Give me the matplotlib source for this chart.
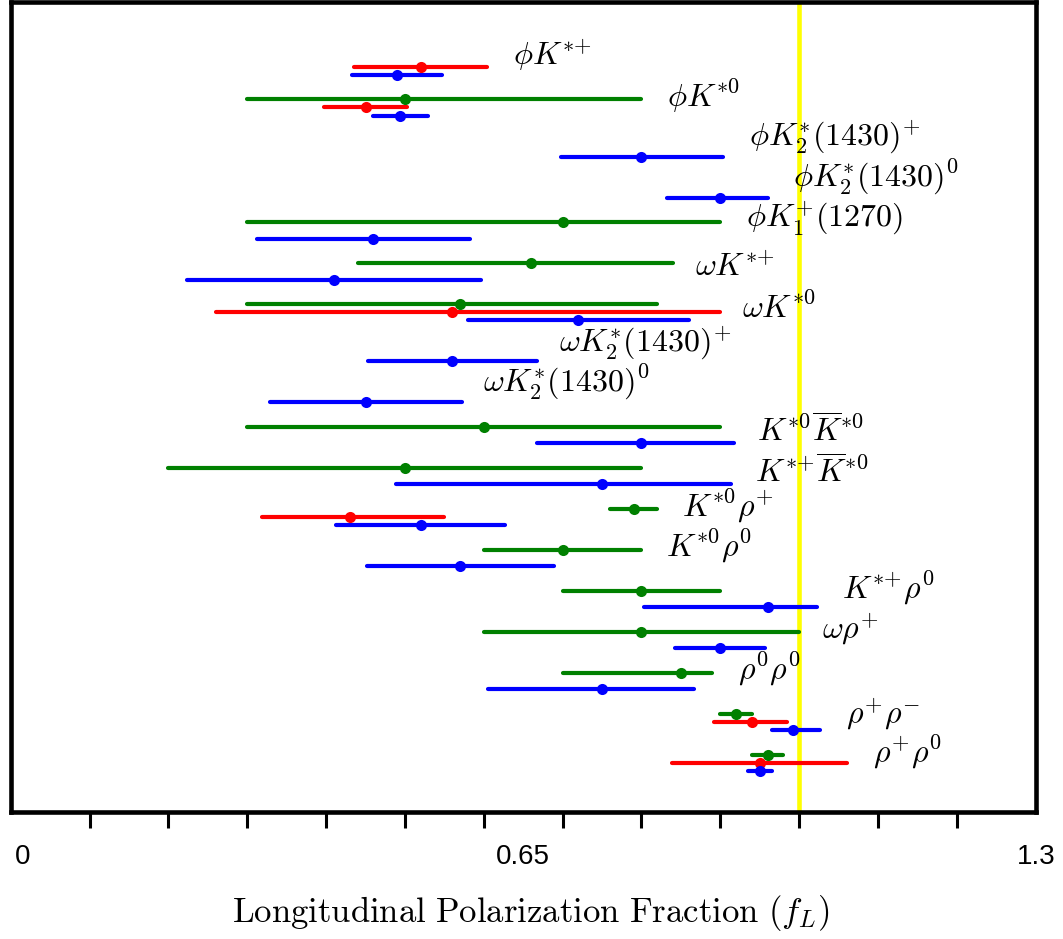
import numpy as np
import matplotlib
matplotlib.use("Agg")
import matplotlib.pyplot as plt
import matplotlib.transforms as mtransforms
from matplotlib.ticker import FixedLocator

plt.rcParams["mathtext.fontset"] = "cm"
plt.rcParams["font.family"] = ["Liberation Sans", "DejaVu Sans"]

# Decay channels, top to bottom (charges and stars braced so they are not spaced as operators)
channels = [
    r"$\phi K^{*{+}}$",
    r"$\phi K^{*0}$",
    r"$\phi K_2^{*}(1430)^{+}$",
    r"$\phi K_2^{*}(1430)^0$",
    r"$\phi K_1^{+}(1270)$",
    r"$\omega K^{*{+}}$",
    r"$\omega K^{*0}$",
    r"$\omega K_2^{*}(1430)^{+}$",
    r"$\omega K_2^{*}(1430)^0$",
    r"$K^{*0}\overline{K}^{*0}$",
    r"$K^{*{+}}\overline{K}^{*0}$",
    r"$K^{*0}\rho^{+}$",
    r"$K^{*0}\rho^0$",
    r"$K^{*{+}}\rho^0$",
    r"$\omega\rho^{+}$",
    r"$\rho^0\rho^0$",
    r"$\rho^{+}\rho^{-}$",
    r"$\rho^{+}\rho^0$",
]

nan = np.nan

# Green series: central value and interval
green_val = [nan, 0.50, nan, nan, 0.70, 0.66, 0.57, nan, nan, 0.60,
             0.50, 0.79, 0.70, 0.80, 0.80, 0.85, 0.92, 0.96]
green_lo = [nan, 0.30, nan, nan, 0.30, 0.44, 0.30, nan, nan, 0.30,
            0.20, 0.76, 0.60, 0.70, 0.60, 0.70, 0.90, 0.94]
green_hi = [nan, 0.80, nan, nan, 0.90, 0.84, 0.82, nan, nan, 0.90,
            0.80, 0.82, 0.80, 0.90, 1.00, 0.89, 0.94, 0.98]

# Red series
red_val = [0.52, 0.45, nan, nan, nan, nan, 0.56, nan, nan, nan,
           nan, 0.43, nan, nan, nan, nan, 0.94, 0.95]
red_lo = [0.436, 0.397, nan, nan, nan, nan, 0.26, nan, nan, nan,
          nan, 0.319, nan, nan, nan, nan, 0.892, 0.839]
red_hi = [0.604, 0.503, nan, nan, nan, nan, 0.90, nan, nan, nan,
          nan, 0.55, nan, nan, nan, nan, 0.985, 1.061]

# Blue series
blue_val = [0.49, 0.494, 0.80, 0.90, 0.46, 0.41, 0.72, 0.56, 0.45, 0.80,
            0.75, 0.52, 0.57, 0.96, 0.90, 0.75, 0.992, 0.95]
blue_lo = [0.433, 0.459, 0.698, 0.833, 0.313, 0.224, 0.58, 0.453, 0.329, 0.668,
           0.489, 0.413, 0.452, 0.803, 0.843, 0.605, 0.966, 0.935]
blue_hi = [0.547, 0.529, 0.904, 0.96, 0.583, 0.596, 0.86, 0.667, 0.572, 0.917,
           0.913, 0.627, 0.689, 1.023, 0.957, 0.867, 1.026, 0.965]

# Text anchor (left edge, baseline) for each channel name
label_x = [0.637, 0.832, 0.936, 0.992, 0.933, 0.868, 0.928, 0.695, 0.599,
           0.946, 0.944, 0.851, 0.831, 1.054, 1.029, 0.922, 1.060, 1.094]
label_y = [0.164, 1.177, 2.141, 3.135, 4.111, 5.315, 6.340, 7.163, 8.123,
           9.360, 10.361, 11.174, 12.168, 13.176, 14.177, 15.154, 16.25, 17.18]

x_ticks = [0.0, 0.65, 1.3]
x_ticklabels = ["0", "0.65", "1.3"]

fig = plt.figure(figsize=(10.63, 9.39), dpi=100)
ax = fig.add_axes([0.01007, 0.13525, 0.96425, 0.86315])

rows = np.arange(len(channels))
series = [
    (green_val, green_lo, green_hi, 0.0, "#008000"),
    (red_val, red_lo, red_hi, 0.2, "#ff0000"),
    (blue_val, blue_lo, blue_hi, 0.4, "#0000ff"),
]

ax.axvline(1.0, color="#ffff00", lw=3.3, zorder=2)

for val, lo, hi, offset, color in series:
    v = np.asarray(val, float)
    lo = np.asarray(lo, float)
    hi = np.asarray(hi, float)
    y = rows + offset
    ok = ~np.isnan(v)
    ax.hlines(y[ok], lo[ok], hi[ok], colors=color, linewidth=3.0,
              capstyle="round", zorder=3)
    ax.plot(v[ok], y[ok], "o", color=color, markersize=8.0,
            markeredgewidth=0, zorder=4)

for name, tx, ty in zip(channels, label_x, label_y):
    ax.text(tx, ty, name, fontsize=23, ha="left", va="baseline", zorder=5)

ax.set_xlim(0, 1.3)
ax.set_ylim(18.40, -1.387)
ax.set_yticks([])

for sp in ax.spines.values():
    sp.set_linewidth(3.3)

ax.set_xticks(x_ticks, labels=x_ticklabels)
ax.xaxis.set_minor_locator(FixedLocator(np.round(np.arange(0, 1.31, 0.1), 2)))
ax.tick_params(axis="x", which="major", length=0, pad=23, labelsize=20)
ax.tick_params(axis="x", which="minor", length=11.5, width=2.2,
               direction="out")

first = ax.get_xticklabels()[0]
first.set_transform(first.get_transform() +
                    mtransforms.ScaledTranslation(0.12, 0, fig.dpi_scale_trans))

fig.text(531 / 1063, 17 / 939,
         r"$\mathrm{Longitudinal\ Polarization\ Fraction}\ (f_L)$",
         fontsize=25, ha="center", va="baseline")

fig.savefig("out.png", dpi=100)
